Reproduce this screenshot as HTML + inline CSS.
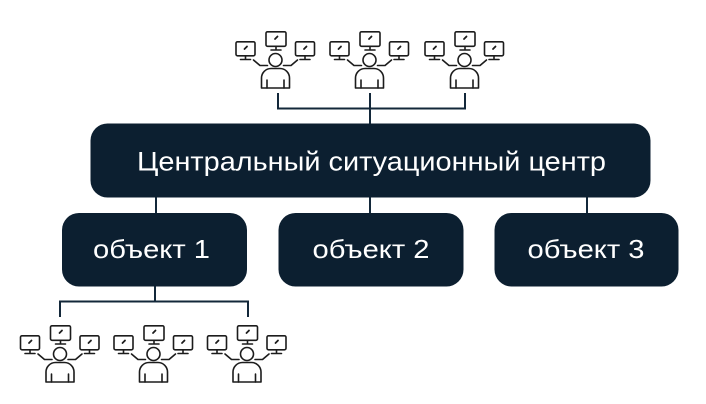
<!DOCTYPE html>
<html>
<head>
<meta charset="utf-8">
<style>
  html,body{margin:0;padding:0;background:#fff;}
  svg{display:block;}
  .t{font-family:"Liberation Sans","DejaVu Sans",sans-serif;fill:#fff;}
</style>
</head>
<body>
<svg width="706" height="404" viewBox="0 0 706 404" xmlns="http://www.w3.org/2000/svg">
  <!-- connectors -->
  <g stroke="#13283a" stroke-width="2" fill="none">
    <path d="M278 93V108.5H465V93M370 93V124"/>
    <path d="M156 196V214M370 196V214M587 196V214"/>
    <path d="M155 285V301.5M60 317V301.5H248V317"/>
  </g>

  <!-- boxes -->
  <g fill="#0c1f30">
    <rect x="90.5" y="123.5" width="560" height="74" rx="17"/>
    <rect x="62" y="213" width="185" height="73.5" rx="17"/>
    <rect x="278.5" y="213" width="185" height="73.5" rx="17"/>
    <rect x="494.5" y="213" width="184" height="73.5" rx="17"/>
  </g>

  <text class="t" x="371.5" y="170.5" font-size="27" text-anchor="middle" textLength="469" lengthAdjust="spacingAndGlyphs">Центральный ситуационный центр</text>
  <text class="t" x="151.5" y="258" font-size="26" text-anchor="middle" textLength="117" lengthAdjust="spacingAndGlyphs">объект 1</text>
  <text class="t" x="371" y="258" font-size="26" text-anchor="middle" textLength="117" lengthAdjust="spacingAndGlyphs">объект 2</text>
  <text class="t" x="586" y="258" font-size="26" text-anchor="middle" textLength="117" lengthAdjust="spacingAndGlyphs">объект 3</text>

  <!-- person icons -->
  <defs>
    <g id="pi" fill="none" stroke="#1c1c1c" stroke-width="1.6" stroke-linejoin="round" stroke-linecap="round">
      <rect x="-9.5" y="0.8" width="20" height="14.5" rx="1.5"/>
      <path d="M0.5 15.5v3M-4.5 19h10"/>
      <path d="M-0.5 8l2.5-2.5" stroke-width="1.8"/>
      <rect x="-39.5" y="10.8" width="19" height="14" rx="1.5"/>
      <path d="M-30 25v3M-35 28.5h10"/>
      <path d="M-31 18l2.5-2.5" stroke-width="1.8"/>
      <rect x="20" y="10.8" width="19" height="14" rx="1.5"/>
      <path d="M29.5 25v3M24.5 28.5h10"/>
      <path d="M28.5 18l2.5-2.5" stroke-width="1.8"/>
      <path d="M-22 29L-15.5 34.5H-8M22 29L15.5 34.5H8"/>
      <circle cx="0" cy="29" r="6.5"/>
      <path d="M-14 57V47a9.5 9.5 0 0 1 9.5-9.5h9a9.5 9.5 0 0 1 9.5 9.5V57Z"/>
      <path d="M-8.5 49V57M8.5 49V57"/>
    </g>
  </defs>
  <use href="#pi" transform="translate(275.5,31)"/>
  <use href="#pi" transform="translate(369.5,31)"/>
  <use href="#pi" transform="translate(464.5,31)"/>
  <use href="#pi" transform="translate(60,325)"/>
  <use href="#pi" transform="translate(153.5,325)"/>
  <use href="#pi" transform="translate(247,325)"/>
</svg>
</body>
</html>
